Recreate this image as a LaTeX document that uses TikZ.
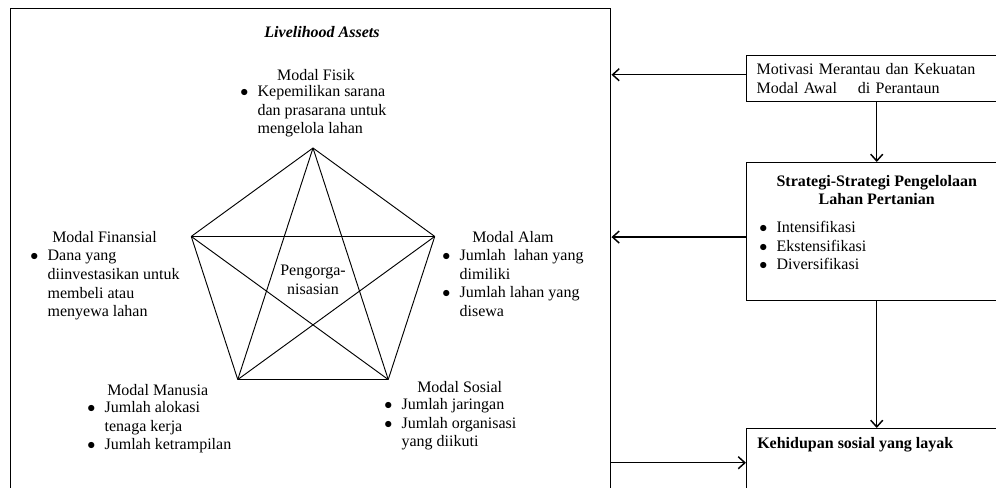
\documentclass[tikz,border=0pt]{standalone}
\usepackage{fontspec}
\setmainfont{Liberation Serif}
\usetikzlibrary{arrows.meta}

\tikzset{
  teks/.style={inner sep=0pt, font=\fontsize{12}{14}\selectfont},
  daftar/.style={teks, anchor=north west, align=left},
  kotak/.style={draw, line width=1.1pt, anchor=north west, inner sep=0pt},
  panah/.style={-{Straight Barb[length=5pt,width=9pt]}, line width=1.1pt},
  garis/.style={line width=0.7pt}
}
\newcommand{\butir}[1]{\makebox[13pt][l]{$\bullet$}#1}
\newcommand{\lanjut}[1]{\hspace*{13pt}#1}

\begin{document}
\begin{tikzpicture}[x=0.75pt, y=-0.75pt]
    \useasboundingbox (0,0) rectangle (996,488);

    % kotak utama
    \node[kotak, minimum width=450pt, minimum height=369pt] (aset) at (10,8) {};
    \node[teks, font=\fontsize{12}{14}\selectfont\bfseries\itshape] (judul) at (322,32) {Livelihood Assets};

    % pentagon
    \coordinate (tengah) at (313,276);
    \foreach \i in {0,...,4}
        \path (tengah) ++(-90+72*\i:128) coordinate (p\i);
    \foreach \i in {0,...,3} {
        \pgfmathtruncatemacro\k{\i+1}
        \foreach \j in {\k,...,4}
            \draw[garis] (p\i) -- (p\j);
    }
    \node[teks, align=center] (atur) at (313,280) {Pengorga-\\nisasian};

    % modal
    \node[teks] (fisik) at (316,75) {Modal Fisik};
    \node[daftar] (fisikL) at (240,85) {\butir{Kepemilikan sarana}\\
        \lanjut{dan prasarana untuk}\\ \lanjut{mengelola lahan}};

    \node[teks, anchor=west] (finansial) at (52,237) {Modal Finansial};
    \node[daftar] (finansialL) at (30,250) {\butir{Dana yang}\\
        \lanjut{diinvestasikan untuk}\\ \lanjut{membeli atau}\\ \lanjut{menyewa lahan}};

    \node[teks, anchor=west] (alam) at (472,237) {Modal Alam};
    \node[daftar] (alamL) at (442,249) {\butir{Jumlah\ \ lahan yang}\\
        \lanjut{dimiliki}\\ \butir{Jumlah lahan yang}\\ \lanjut{disewa}};

    \node[teks, anchor=west] (manusia) at (107,390) {Modal Manusia};
    \node[daftar] (manusiaL) at (87,401) {\butir{Jumlah alokasi}\\
        \lanjut{tenaga kerja}\\ \butir{Jumlah ketrampilan}};

    \node[teks, anchor=west] (sosial) at (417,387) {Modal Sosial};
    \node[daftar] (sosialL) at (384,398) {\butir{Jumlah jaringan}\\
        \butir{Jumlah organisasi}\\ \lanjut{yang diikuti}};

    % kotak kanan
    \node[kotak, teks, minimum width=195pt, minimum height=34.5pt, text width=180pt,
          inner xsep=7.5pt, inner ysep=0pt, align=left] (motivasi) at (746,55)
          {Motivasi Merantau dan Kekuatan\\Modal Awal\hspace{1.3em}di Perantaun};
    \node[kotak, minimum width=195pt, minimum height=103.5pt] (strategi) at (746,162) {};
    \node[teks, font=\fontsize{12}{14}\selectfont\bfseries, align=center] (strategiJ)
        at (strategi.north |- 0,190) {Strategi-Strategi Pengelolaan\\Lahan Pertanian};
    \node[daftar] (strategiL) at (759,221) {\butir{Intensifikasi}\\
        \butir{Ekstensifikasi}\\ \butir{Diversifikasi}};
    \node[kotak, minimum width=195pt, minimum height=51pt] (hidup) at (746,428) {};
    \node[teks, font=\fontsize{12}{14}\selectfont\bfseries, anchor=west] (hidupJ) at (757,445)
        {Kehidupan sosial yang layak};

    % panah
    \draw[panah] ([yshift=3pt]motivasi.west) -- ([yshift=3pt]motivasi.west -| aset.east);
    \draw[panah] ([yshift=-4pt]strategi.west) -- ([yshift=-4pt]strategi.west -| aset.east);
    \draw[panah] (motivasi.south) -- (strategi.north);
    \draw[panah] (strategi.south) -- (hidup.north);
    \draw[panah] (aset.east |- hidup.west) -- (hidup.west);
\end{tikzpicture}
\end{document}
